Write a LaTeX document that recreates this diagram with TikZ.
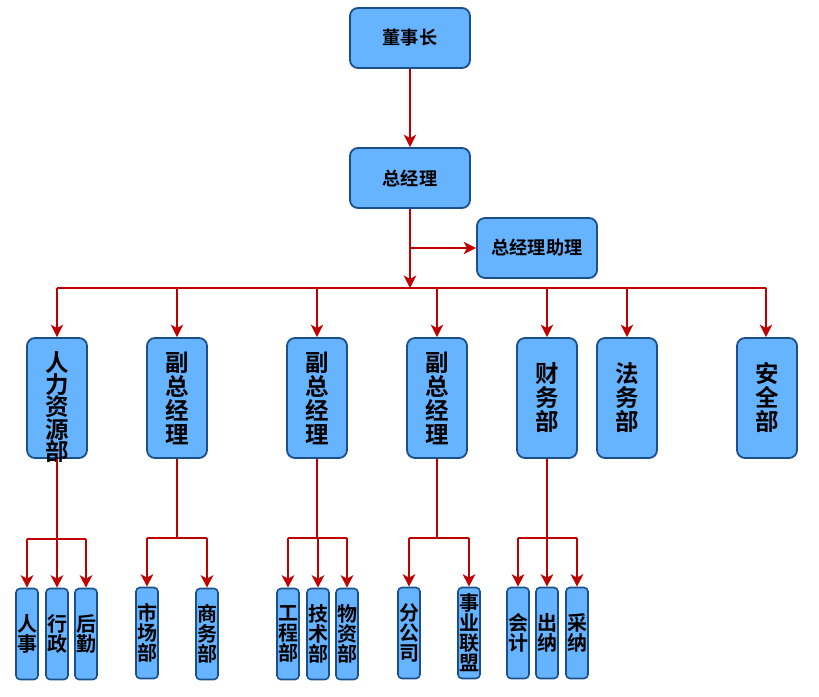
\documentclass[tikz,border=0pt]{standalone}
\usepackage{fontspec}
\setmainfont{Noto Sans CJK SC}[BoldFont={Noto Sans CJK SC Bold}]
\usetikzlibrary{arrows.meta}
\definecolor{boxfill}{HTML}{66B3FF}
\definecolor{boxline}{HTML}{1B4F8A}
\definecolor{arr}{HTML}{C00000}
\tikzset{
  topbox/.style={draw=boxline, fill=boxfill, line width=1.8pt, rounded corners=8pt,
    minimum width=120pt, minimum height=60pt, inner sep=0pt,
    font=\fontsize{18.2}{20}\selectfont\bfseries},
  midbox/.style={draw=boxline, fill=boxfill, line width=1.8pt, rounded corners=8pt,
    minimum width=60pt, minimum height=120pt, inner sep=0pt, align=center,
    font=\fontsize{23.5}{24}\selectfont\bfseries},
  txt/.style={inner sep=0pt, align=center, font=\fontsize{23.5}{22.4}\selectfont\bfseries},
  smallbox/.style={draw=boxline, fill=boxfill, line width=1.6pt, rounded corners=4pt,
    minimum width=22pt, minimum height=91pt, inner sep=0pt, align=center,
    font=\fontsize{20}{20}\selectfont\bfseries},
  link/.style={draw=arr, line width=1.6pt},
  arrowlink/.style={link, -{Stealth[length=12.5pt,width=12.5pt,inset=3.5pt]}}
}
\begin{document}
\begin{tikzpicture}[x=1pt,y=-1pt]
\useasboundingbox (0,0) rectangle (819,696);
% top
\node[topbox] (dsz) at (410,38) {董事长};
\node[topbox] (zjl) at (410,178) {总经理};
\node[topbox] (zl) at (537,248) {总经理助理};
% level 2
\node[midbox] (hr) at (57,398) {};
\node[txt] (hrt) at (57,407) {人\\力\\资\\源\\部};
\node[midbox] (f1) at (177,398) {副\\总\\经\\理};
\node[midbox] (f2) at (317,398) {副\\总\\经\\理};
\node[midbox] (f3) at (437,398) {副\\总\\经\\理};
\node[midbox] (cw) at (547,398) {财\\务\\部};
\node[midbox] (fw) at (627,398) {法\\务\\部};
\node[midbox] (aq) at (767,398) {安\\全\\部};
% level 3
\node[smallbox] (rs) at (27,634) {人\\事};
\node[smallbox] (xz) at (57,634) {行\\政};
\node[smallbox] (hq) at (86,634) {后\\勤};
\node[smallbox] (sc) at (147,633) {市\\场\\部};
\node[smallbox] (sw) at (207,634) {商\\务\\部};
\node[smallbox] (gc) at (288,634) {工\\程\\部};
\node[smallbox] (js) at (318,634) {技\\术\\部};
\node[smallbox] (wz) at (347,634) {物\\资\\部};
\node[smallbox] (fg) at (409,633) {分\\公\\司};
\node[smallbox] (sy) at (469,633) {事\\业\\联\\盟};
\node[smallbox] (kj) at (518,633) {会\\计};
\node[smallbox] (cn) at (547,633) {出\\纳};
\node[smallbox] (cg) at (577,633) {采\\纳};
% coordinates
\coordinate (bus) at (410,288);
\coordinate (zlj) at (410,248);
\coordinate (hrb) at (57,539);
\coordinate (f1b) at (177,538);
\coordinate (f2b) at (317,538);
\coordinate (f3b) at (437,538);
\coordinate (cwb) at (547,538);
% connectors top
\draw[arrowlink] (dsz.south) -- (zjl.north);
\draw[arrowlink] (zjl.south) -- (bus);
\draw[arrowlink] (zlj) -- (zl.west);
\draw[link] (hr.north |- bus) -- (766,288) coordinate (busend);
\foreach \n in {hr,f1,f2,f3,cw,fw}{
  \draw[arrowlink] (\n.north |- bus) -- (\n.north);
}
\draw[arrowlink] (busend) -- (busend |- aq.north);
% HR
\draw[link] (hr.south) -- (hrb);
\draw[link] (rs.north |- hrb) -- (hq.north |- hrb);
\foreach \n in {rs,xz,hq}{\draw[arrowlink] (\n.north |- hrb) -- (\n.north);}
% F1
\draw[link] (f1.south) -- (f1b);
\draw[link] (sc.north |- f1b) -- (sw.north |- f1b);
\foreach \n in {sc,sw}{\draw[arrowlink] (\n.north |- f1b) -- (\n.north);}
% F2
\draw[link] (f2.south) -- (f2b);
\draw[link] (gc.north |- f2b) -- (wz.north |- f2b);
\foreach \n in {gc,js,wz}{\draw[arrowlink] (\n.north |- f2b) -- (\n.north);}
% F3
\draw[link] (f3.south) -- (f3b);
\draw[link] (fg.north |- f3b) -- (sy.north |- f3b);
\foreach \n in {fg,sy}{\draw[arrowlink] (\n.north |- f3b) -- (\n.north);}
% CW
\draw[link] (cw.south) -- (cwb);
\draw[link] (kj.north |- cwb) -- (cg.north |- cwb);
\foreach \n in {kj,cn,cg}{\draw[arrowlink] (\n.north |- cwb) -- (\n.north);}
\end{tikzpicture}
\end{document}
